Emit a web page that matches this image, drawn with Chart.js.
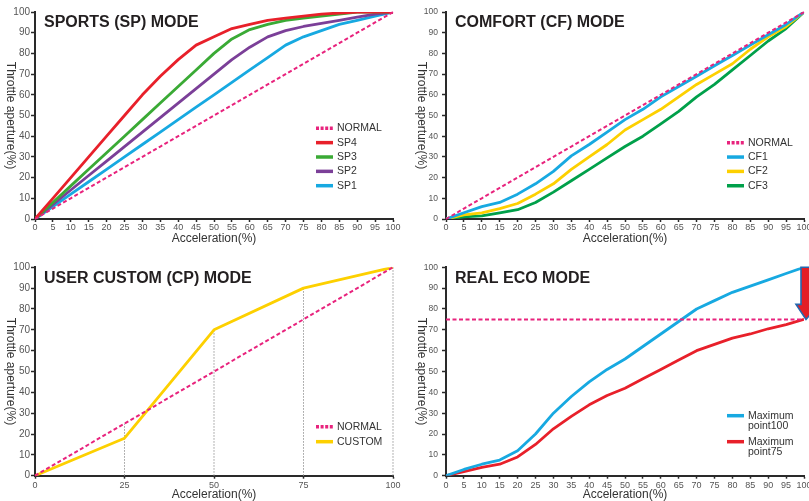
<!DOCTYPE html>
<html>
<head>
<meta charset="utf-8">
<title>Throttle modes</title>
<script src="https://cdn.jsdelivr.net/npm/chart.js@4.4.1/dist/chart.umd.min.js"></script>
<style>
  html, body { margin: 0; padding: 0; background: #fff; }
  #wrap { position: relative; width: 809px; height: 501px; overflow: hidden; }
  .panel { position: absolute; }
  #p-sp { left: 0; top: 0; width: 404px; height: 250px; }
  #p-cf { left: 404px; top: 0; width: 420px; height: 250px; }
  #p-cp { left: 0; top: 250px; width: 404px; height: 270px; }
  #p-eco { left: 404px; top: 250px; width: 420px; height: 270px; }
</style>
</head>
<body>
<div id="wrap">
  <div class="panel" id="p-sp"><canvas id="c-sp"></canvas></div>
  <div class="panel" id="p-cf"><canvas id="c-cf"></canvas></div>
  <div class="panel" id="p-cp"><canvas id="c-cp"></canvas></div>
  <div class="panel" id="p-eco"><canvas id="c-eco"></canvas></div>
</div>
<script>
// acceleration steps (x) shared by the 5%-step charts
var ACCEL = [0, 5, 10, 15, 20, 25, 30, 35, 40, 45, 50, 55, 60, 65, 70, 75, 80, 85, 90, 95, 100];
var NORMAL = [0, 5, 10, 15, 20, 25, 30, 35, 40, 45, 50, 55, 60, 65, 70, 75, 80, 85, 90, 95, 100];

// sports mode
var SP4 = [0, 10, 20, 30, 40, 50, 60, 69, 77, 84, 88, 92, 94, 96, 97, 98, 99, 99.5, 100, 100, 100];
var SP3 = [0, 8, 16, 24, 32, 40, 48, 56, 64, 72, 80, 87, 91.5, 94, 96, 97, 98, 99, 100, 100, 100];
var SP2 = [0, 7, 14, 21, 28, 35, 42, 49, 56, 63, 70, 77, 83, 88, 91, 93, 94.5, 96, 97.5, 99, 100];
var SP1 = [0, 6, 12, 18, 24, 30, 36, 42, 48, 54, 60, 66, 72, 78, 84, 88, 91, 94, 96, 98, 100];

// comfort mode
var CF1 = [0, 3, 6, 8, 12, 17, 23, 30.5, 36, 42, 48, 53, 59, 64, 69, 74, 79, 84, 89, 94, 100];
var CF2 = [0, 2, 3, 5, 7.5, 12, 17, 24, 30, 36, 43, 48, 53, 59, 65, 70, 75, 82, 88, 93, 100];
var CF3 = [0, 1, 1.5, 3, 4.5, 8, 13, 18.5, 24, 29.5, 35, 40, 46, 52, 59, 65, 72, 79, 86, 92, 100];

// user custom mode
var CP_ACCEL = [0, 25, 50, 75, 100];
var CP_NORMAL = [0, 25, 50, 75, 100];
var CP_CUSTOM = [0, 18, 70, 90, 100];

// real eco mode
var ECO_MAX100 = [0, 3, 5.5, 7.5, 12, 20, 30, 38, 45, 51, 56, 62, 68, 74, 80, 84, 88, 91, 94, 97, 100];
var ECO_MAX75 = [0, 2, 4, 5.5, 9, 15, 22.5, 28.5, 34, 38.5, 42, 46.5, 51, 55.5, 60, 63, 66, 68, 70.5, 72.5, 75];
var ECO_LIMIT_X = [0, 100];
var ECO_LIMIT = [75, 75];
var ECO_ARROW = { x: 100, from: 100, to: 75 };

var FONT = "'Liberation Sans', Arial, Helvetica, sans-serif";
var PINK = '#e8237d';

function pts(xs, ys) {
  return xs.map(function (x, i) { return { x: x, y: ys[i] }; });
}

function line(label, xs, ys, color, dashed) {
  return {
    label: label,
    data: pts(xs, ys),
    borderColor: color,
    borderWidth: dashed ? 2 : 2.8,
    borderDash: dashed ? [4, 2.5] : [],
    borderJoinStyle: 'round',
    pointRadius: 0,
    tension: 0,
    fill: false,
    clip: dashed ? false : undefined
  };
}

// title, legend and axis titles drawn inside each panel
var decor = {
  id: 'decor',
  afterDraw: function (chart, args, o) {
    var ctx = chart.ctx, a = chart.chartArea;
    ctx.save();
    ctx.fillStyle = '#231f20';
    ctx.font = 'bold 16px ' + FONT;
    ctx.textBaseline = 'middle';
    ctx.textAlign = 'left';
    ctx.fillText(o.title, a.left + 9, a.top + 11);

    ctx.fillStyle = '#333';
    ctx.font = '12px ' + FONT;
    ctx.textAlign = 'center';
    ctx.fillText('Acceleration(%)', (a.left + a.right) / 2, a.bottom + o.xTitleGap);
    ctx.save();
    ctx.translate(a.left - 25, (a.top + a.bottom) / 2);
    ctx.rotate(Math.PI / 2);
    ctx.fillText('Throttle aperture(%)', 0, 0);
    ctx.restore();

    var sx = a.right - 77, tx = a.right - 56;
    var y = a.top + o.legendTop;
    ctx.font = '10.5px ' + FONT;
    ctx.textAlign = 'left';
    o.legend.forEach(function (it) {
      ctx.strokeStyle = it.color;
      ctx.lineWidth = 3.5;
      ctx.setLineDash(it.dashed ? [3, 1.6] : []);
      ctx.beginPath();
      ctx.moveTo(sx, y);
      ctx.lineTo(sx + 17, y);
      ctx.stroke();
      ctx.setLineDash([]);
      ctx.fillStyle = '#333';
      it.text.forEach(function (t, k) {
        ctx.fillText(t, tx, y + k * o.lineGap);
      });
      y += o.rowGap;
    });
    ctx.restore();
  }
};

// dotted drop lines under the custom points
var dropLines = {
  id: 'dropLines',
  beforeDatasetsDraw: function (chart, args, o) {
    if (!o.enabled) return;
    var ctx = chart.ctx, ys = chart.scales.y;
    var metas = chart.data.datasets.map(function (_, i) { return chart.getDatasetMeta(i).data; });
    ctx.save();
    ctx.strokeStyle = '#9a9a9a';
    ctx.lineWidth = 1;
    ctx.setLineDash([1.5, 1.5]);
    for (var i = 1; i < metas[0].length; i++) {
      var top = Math.min.apply(null, metas.map(function (m) { return m[i].y; }));
      ctx.beginPath();
      ctx.moveTo(metas[0][i].x, ys.getPixelForValue(0));
      ctx.lineTo(metas[0][i].x, top);
      ctx.stroke();
    }
    ctx.restore();
  }
};

// down arrow at the right edge of the eco chart
var ecoArrow = {
  id: 'ecoArrow',
  afterDatasetsDraw: function (chart, args, o) {
    if (!o.enabled) return;
    var ctx = chart.ctx;
    var cx = chart.scales.x.getPixelForValue(ECO_ARROW.x) + 3;
    var yTop = chart.scales.y.getPixelForValue(ECO_ARROW.from);
    var yTip = chart.scales.y.getPixelForValue(ECO_ARROW.to);
    var yHead = yTip - 15;
    ctx.save();
    ctx.beginPath();
    ctx.moveTo(cx - 6, yTop);
    ctx.lineTo(cx + 6, yTop);
    ctx.lineTo(cx + 6, yHead);
    ctx.lineTo(cx + 12, yHead);
    ctx.lineTo(cx - 1, yTip);
    ctx.lineTo(cx - 11, yHead);
    ctx.lineTo(cx - 6, yHead);
    ctx.closePath();
    ctx.fillStyle = '#e31e25';
    ctx.fill();
    ctx.strokeStyle = '#2468b0';
    ctx.lineWidth = 1.6;
    ctx.stroke();
    ctx.restore();
  }
};

function makeChart(id, c) {
  return new Chart(document.getElementById(id), {
    type: 'line',
    data: { datasets: c.datasets },
    options: {
      responsive: true,
      maintainAspectRatio: false,
      animation: false,
      events: [],
      layout: { padding: { top: c.top, right: c.right, left: 0, bottom: 0 } },
      scales: {
        x: {
          type: 'linear', min: 0, max: 100,
          afterFit: function (s) { s.height = c.xHeight; },
          border: { display: true, color: '#2a2a2a', width: 2 },
          grid: { display: true, drawOnChartArea: false, drawTicks: true, tickLength: 3, tickColor: '#2a2a2a', tickWidth: 1.5 },
          ticks: { stepSize: c.xStep, autoSkip: false, maxRotation: 0, padding: c.xPad, color: '#555', font: { family: FONT, size: 9 } }
        },
        y: {
          type: 'linear', min: 0, max: 100,
          afterFit: function (s) { s.width = c.yWidth; },
          border: { display: true, color: '#2a2a2a', width: 2 },
          grid: { display: true, drawOnChartArea: false, drawTicks: true, tickLength: 4, tickColor: '#2a2a2a', tickWidth: 1.5 },
          ticks: { stepSize: 10, padding: c.yPad, color: '#555', font: { family: FONT, size: c.yFont } }
        }
      },
      plugins: {
        legend: { display: false },
        tooltip: { enabled: false },
        decor: { title: c.title, legend: c.legend, legendTop: c.legendTop, rowGap: c.rowGap, lineGap: c.lineGap || 0, xTitleGap: c.xTitleGap },
        dropLines: { enabled: !!c.drop },
        ecoArrow: { enabled: !!c.arrow }
      }
    },
    plugins: [decor, dropLines, ecoArrow]
  });
}

makeChart('c-sp', {
  title: 'SPORTS (SP) MODE',
  top: 12, right: 11, xHeight: 31, yWidth: 35, xStep: 5, xPad: 0, yPad: 1, yFont: 10, xTitleGap: 19.7,
  legendTop: 116.3, rowGap: 14.35,
  datasets: [
    line('NORMAL', ACCEL, NORMAL, PINK, true),
    line('SP4', ACCEL, SP4, '#e8202a'),
    line('SP3', ACCEL, SP3, '#3aaa35'),
    line('SP2', ACCEL, SP2, '#7b3f98'),
    line('SP1', ACCEL, SP1, '#17a9e1')
  ],
  legend: [
    { text: ['NORMAL'], color: PINK, dashed: true },
    { text: ['SP4'], color: '#e8202a' },
    { text: ['SP3'], color: '#3aaa35' },
    { text: ['SP2'], color: '#7b3f98' },
    { text: ['SP1'], color: '#17a9e1' }
  ]
});

makeChart('c-cf', {
  title: 'COMFORT (CF) MODE',
  top: 12, right: 20, xHeight: 31, yWidth: 42, xStep: 5, xPad: 0, yPad: 4, yFont: 8.5, xTitleGap: 19.7,
  legendTop: 130.7, rowGap: 14.35,
  datasets: [
    line('NORMAL', ACCEL, NORMAL, PINK, true),
    line('CF1', ACCEL, CF1, '#17a9e1'),
    line('CF2', ACCEL, CF2, '#fdd000'),
    line('CF3', ACCEL, CF3, '#00a04a')
  ],
  legend: [
    { text: ['NORMAL'], color: PINK, dashed: true },
    { text: ['CF1'], color: '#17a9e1' },
    { text: ['CF2'], color: '#fdd000' },
    { text: ['CF3'], color: '#00a04a' }
  ]
});

makeChart('c-cp', {
  title: 'USER CUSTOM (CP) MODE',
  top: 17.3, right: 11, xHeight: 44.3, yWidth: 35, xStep: 25, xPad: 1, yPad: 1, yFont: 10, xTitleGap: 19.3,
  legendTop: 159.4, rowGap: 15, drop: true,
  datasets: [
    line('NORMAL', CP_ACCEL, CP_NORMAL, PINK, true),
    line('CUSTOM', CP_ACCEL, CP_CUSTOM, '#fdd000')
  ],
  legend: [
    { text: ['NORMAL'], color: PINK, dashed: true },
    { text: ['CUSTOM'], color: '#fdd000' }
  ]
});

makeChart('c-eco', {
  title: 'REAL ECO MODE',
  top: 17.3, right: 20, xHeight: 44.3, yWidth: 42, xStep: 5, xPad: 1, yPad: 4, yFont: 8.5, xTitleGap: 19.3,
  legendTop: 148.4, rowGap: 26, lineGap: 10.7, arrow: true,
  datasets: [
    line('Limit', ECO_LIMIT_X, ECO_LIMIT, PINK, true),
    line('Maximum point100', ACCEL, ECO_MAX100, '#17a9e1'),
    line('Maximum point75', ACCEL, ECO_MAX75, '#e8202a')
  ],
  legend: [
    { text: ['Maximum', 'point100'], color: '#17a9e1' },
    { text: ['Maximum', 'point75'], color: '#e8202a' }
  ]
});
</script>
</body>
</html>
